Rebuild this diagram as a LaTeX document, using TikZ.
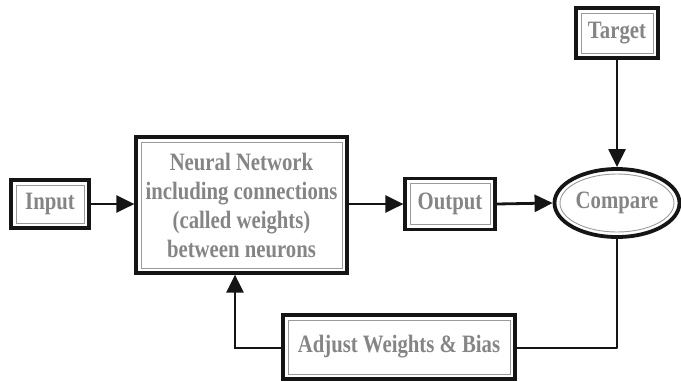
\documentclass[tikz,border=0pt]{standalone}
\usepackage{fontspec}
\setmainfont{Liberation Serif}
\usetikzlibrary{arrows.meta,shapes.geometric,calc}
\definecolor{txtgray}{HTML}{858585}
\definecolor{linegray}{HTML}{9A9A9A}
\definecolor{edgeblack}{HTML}{151515}
\newcommand{\cnd}[1]{\scalebox{0.83}[1]{#1}}
\tikzset{
  boxnode/.style={draw=edgeblack, line width=3.2pt, rectangle, inner sep=0pt,
    font=\bfseries\fontsize{25}{29}\selectfont, text=txtgray, align=center,
    path picture={\draw[linegray, line width=0.9pt]
      ([shift={(5pt,5pt)}]path picture bounding box.south west) rectangle
      ([shift={(-5pt,-5pt)}]path picture bounding box.north east);}},
  ellnode/.style={draw=edgeblack, line width=3.8pt, ellipse, inner sep=0pt,
    font=\bfseries\fontsize{25}{29}\selectfont, text=txtgray,
    path picture={\draw[linegray, line width=0.9pt]
      (path picture bounding box.center) ellipse [x radius=57pt, y radius=29pt];}},
  conn/.style={line width=2.8pt, draw=edgeblack, -{Triangle[length=18pt,width=17pt]}},
  plainconn/.style={line width=2.8pt, draw=edgeblack, line join=round},
}
\begin{document}
\begin{tikzpicture}[x=1pt,y=-1pt]
\useasboundingbox (0,0) rectangle (681,381);
\node[boxnode, minimum width=78pt, minimum height=48pt] (in) at (50,204) {\cnd{Input}};
\node[boxnode, minimum width=211pt, minimum height=136pt] (nn) at (241.5,205)
  {\cnd{Neural Network}\\\cnd{including connections}\\\cnd{(called weights)}\\\cnd{between neurons}};
\node[boxnode, minimum width=90pt, minimum height=51pt] (out) at (450,204) {\cnd{Output}};
\node[ellnode, minimum width=125pt, minimum height=68pt] (cmp) at (617,203) {\cnd{Compare}};
\node[boxnode, minimum width=82pt, minimum height=50pt] (tgt) at (617,33) {\cnd{Target}};
\node[boxnode, minimum width=232pt, minimum height=64pt] (adj) at (399,347) {\cnd{Adjust Weights \& Bias}};
\coordinate (fbl) at (235,348);
\coordinate (fbr) at (620,348);
\draw[conn] (in.east) -- (in.east -| nn.west);
\draw[conn] (nn.east |- out.west) -- (out.west);
\draw[conn] (out.east) -- (cmp.west);
\draw[conn, line width=2.3pt] (tgt.south) -- (cmp.north);
\draw[plainconn] (cmp.south) -- (cmp.south |- fbr) -- (adj.east |- fbr);
\draw[conn] (adj.west |- fbl) -- (fbl) -- (fbl |- nn.south);
\end{tikzpicture}
\end{document}
